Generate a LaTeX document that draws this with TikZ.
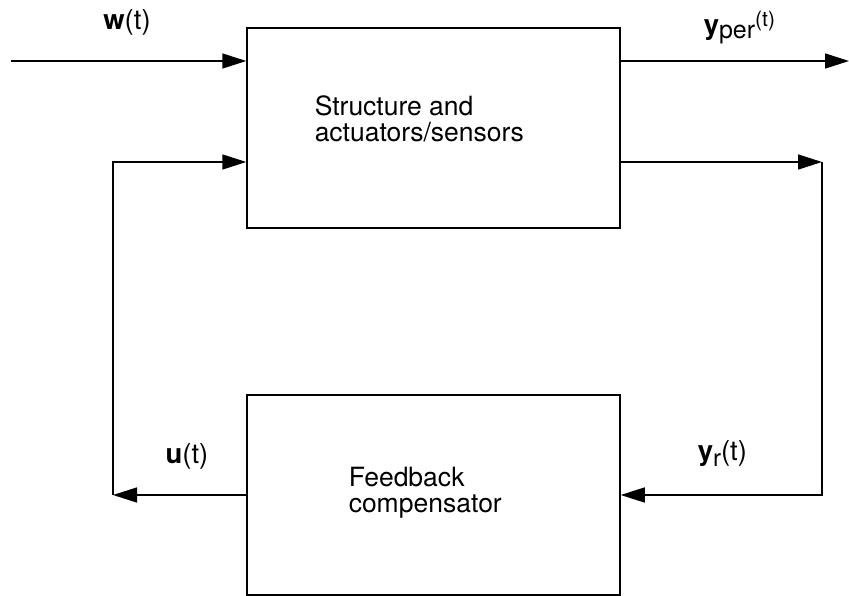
\documentclass[tikz,border=0pt]{standalone}
\usepackage{fontspec}
\setmainfont{TeX Gyre Heros}
\usetikzlibrary{arrows.meta,positioning}

\begin{document}
\begin{tikzpicture}[x=1pt,y=-1pt,>={Triangle[length=24pt,width=15pt]},line width=1.5pt,
  block/.style={draw,minimum width=373pt,minimum height=200pt,inner sep=0pt},
  block text/.style={align=left,font=\fontsize{26.5}{26}\selectfont,inner sep=0pt},
  signal/.style={font=\fontsize{27.5}{28}\selectfont,inner sep=0pt}]

  \useasboundingbox (0,0) rectangle (849,596);

  % the two blocks
  \node[block] (plant) at (433.5,128) {};
  \node[block] (comp) [below=165.5pt of plant] {};
  \node[block text,anchor=base west] (plant text) at (314,142) {Structure and\\actuators/sensors};
  \node[block text,anchor=base west] (comp text) at (348,512) {Feedback\\compensator};

  % corners and free ends
  \coordinate (w in) at (11,61);
  \coordinate (y out) at (849,61);
  \coordinate (r corner) at (822,162);
  \coordinate (u corner) at ([xshift=-133.25pt]comp.west);

  \draw[->] (w in) -- (w in -| plant.west);
  \draw[->] (y out -| plant.east) -- (y out);
  \draw[->] (plant.east |- r corner) -- (r corner);
  \draw[->] (r corner) |- (comp.east);
  \draw[->] (comp.west) -- (u corner);
  \draw[->] (u corner) |- (r corner -| plant.west);

  % signal labels
  \node[signal] (w label) at (127,22) {\textbf{w}(t)};
  \node[signal,anchor=base west] (y per label) at (703,35)
    {\textbf{y}\raisebox{-4pt}{\fontsize{25}{25}\selectfont per}\raisebox{8pt}{\fontsize{21}{21}\selectfont(t)}};
  \node[signal] (u label) at (187,456) {\textbf{u}(t)};
  \node[signal,anchor=base west] (y r label) at (697,460)
    {\textbf{y}\raisebox{-6pt}{\fontsize{24}{24}\selectfont r}(t)};
\end{tikzpicture}
\end{document}
